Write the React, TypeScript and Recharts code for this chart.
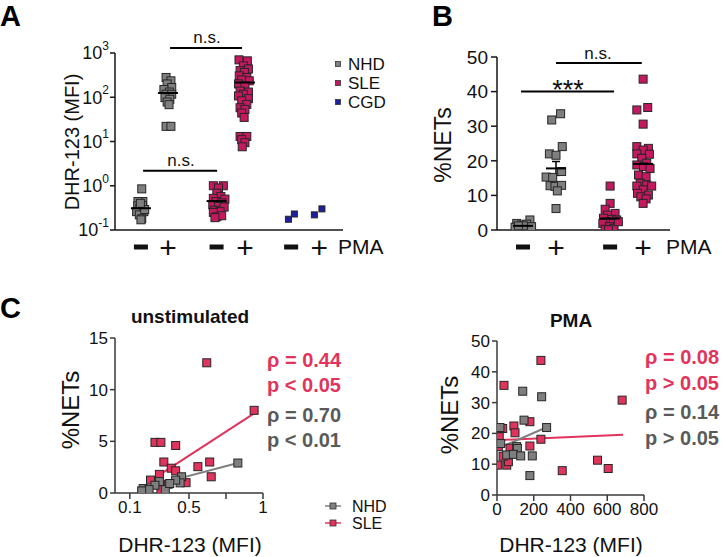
import { ScatterChart, Scatter, XAxis, YAxis, ErrorBar, ReferenceLine } from 'recharts';

const FONT = '"Liberation Sans", Arial, Helvetica, sans-serif';
const GRAY = '#7f7f7f';
const MAGENTA = '#c4185f';
const NAVY = '#1c1f9e';
const RED = '#e1345c';
const TXT_GRAY = '#5a5a5a';
const AXIS = '#161616';

// ---------- Panel A: DHR-123 (MFI), log scale ----------
const groupPosA = [1, 2, 3.8, 4.85, 6.56, 7.6];
const pmaSigns = ['-', '+', '-', '+', '-', '+'];
const logTicksA = [0.1, 1, 10, 100, 1000];

const nhdUnstimA = [0.85, 0.44, 0.44, 0.35, 0.36, 0.31, 0.26, 0.26, 0.22, 0.18, 0.17, 0.29, 0.4];
const nhdUnstimJitA = [0.03, 0.07, -0.11, -0.12, 0.06, -0.04, -0.16, 0.11, -0.06, 0.03, 0.0, 0.14, -0.02];
const nhdPmaA = [280, 235, 200, 166, 150, 131, 117, 117, 98, 90, 78, 68, 22, 22];
const nhdPmaJitA = [-0.07, 0.11, -0.03, 0.14, -0.15, 0.05, -0.07, 0.14, -0.11, 0.07, -0.03, 0.04, -0.07, 0.11];
const sleUnstimA = [1.0, 1.0, 0.89, 0.68, 0.57, 0.52, 0.5, 0.44, 0.41, 0.37, 0.34, 0.33, 0.28, 0.26, 0.25, 0.2, 0.21, 0.19];
const sleUnstimJitA = [-0.12, 0.25, 0.07, 0.01, 0.16, -0.12, 0.31, -0.02, 0.19, -0.14, 0.07, 0.28, -0.06, 0.13, -0.12, 0.01, 0.19, -0.06];
const slePmaA = [700, 665, 510, 435, 400, 365, 305, 280, 247, 235, 200, 183, 138, 131, 117, 107, 93, 83, 69, 58, 53, 44, 35, 13, 13, 11, 9.4, 7.6];
const slePmaJitA = [-0.22, 0.09, -0.06, 0.13, -0.18, -0.02, -0.21, 0.07, -0.12, 0.16, -0.24, 0, -0.18, 0.13, -0.06, -0.24, 0.13, -0.12, 0.07, -0.18, 0, -0.12, -0.03, -0.18, 0.07, -0.12, 0, -0.1];
const cgdUnstimA = [0.175, 0.23];
const cgdUnstimJitA = [-0.1, 0.12];
const cgdPmaA = [0.22, 0.3];
const cgdPmaJitA = [-0.18, 0.1];

const meanPosA = [1, 2, 3.8, 4.85];
const meanA = [0.31, 125, 0.45, 215];
const semLowA = [0.04, 20, 0.05, 40];
const semHighA = [0.04, 25, 0.05, 45];

// ---------- Panel B: %NETs ----------
const groupPosB = [1, 2, 3.64, 4.64];
const yTicksB = [0, 10, 20, 30, 40, 50];
const nhdUnstimB = [1.9, 2.9, 1.45, 1.7, 0.8, 0.5, 0.5, 0.96, 1.2, 1.2];
const nhdUnstimJitB = [-0.19, 0.21, -0.04, 0.11, -0.24, -0.09, 0.06, 0.26, 0.01, -0.14];
const nhdPmaB = [31.8, 33.6, 24.1, 22, 21.6, 16.9, 15.3, 15.2, 12.8, 12.6, 12.9, 11.3, 6.2];
const nhdPmaJitB = [-0.13, 0.14, 0.19, -0.2, 0, 0.17, -0.3, -0.1, -0.18, -0.03, 0.17, 0.04, 0];
const sleUnstimB = [12.7, 7.7, 6.0, 4.8, 4.3, 3.4, 3.1, 2.9, 2.4, 1.9, 1.9, 0.96, 0.5, 0.2, 2.4, 0.1];
const sleUnstimJitB = [0, 0, -0.15, 0.15, -0.08, -0.2, 0.05, 0.2, -0.1, 0.1, -0.22, -0.02, 0.12, -0.15, 0.25, -0.05];
const slePmaB = [43.6, 35.4, 34.7, 30.6, 24.1, 23.6, 23.1, 22, 21.9, 20.7, 19.3, 18.8, 18.3, 17.8, 15.9, 15.4, 13.5, 13, 12.7, 12.7, 11.6, 10.6, 10.1, 9.6, 9.0, 7.7];
const slePmaJitB = [0, 0.14, -0.19, 0, -0.19, 0.16, 0, -0.19, 0.19, -0.04, 0.11, -0.19, 0.01, 0.21, -0.14, 0.09, -0.09, 0.11, -0.19, 0.26, 0, -0.17, 0.16, -0.07, 0.09, 0];
const meanB = [1.2, 17.8, 3.3, 19.1];
const semB = [0.3, 2.0, 0.8, 1.6];

// ---------- Panel C left: unstimulated ----------
const xTicksCL = [0.1, 0.5, 0.75, 1];
const xTickLabelsCL = ['0.1', '0.5', '', '1'];
const yTicksCL = [0, 5, 10, 15];
const sleXCL = [0.94, 0.27, 0.31, 0.41, 0.33, 0.38, 0.41, 0.56, 0.64, 0.65, 0.24, 0.3, 0.48, 0.31, 0.36, 0.62];
const sleYCL = [8.0, 4.9, 4.9, 4.6, 3.0, 2.4, 2.15, 2.55, 3.0, 1.57, 1.25, 1.8, 1.0, 0.33, 0.85, 12.6];
const nhdXCL = [0.83, 0.45, 0.44, 0.41, 0.3, 0.27, 0.19, 0.23, 0.34, 0.18, 0.37];
const nhdYCL = [2.9, 1.57, 0.98, 1.25, 1.1, 0.75, 0.43, 0.33, 0.33, 0.2, 0.92];
const sleFitXCL = [0.24, 0.94];
const sleFitYCL = [1.2, 7.7];
const nhdFitXCL = [0.18, 0.83];
const nhdFitYCL = [0.45, 2.9];

// ---------- Panel C right: PMA ----------
const xTicksCR = [0, 200, 400, 600, 800];
const yTicksCR = [0, 10, 20, 30, 40, 50];
const sleXCR = [239, 38, 681, 179, 92, 98, 7, 239, 179, 7, 31, 547, 605, 355, 2, 53, 62, 33, 12, 71];
const sleYCR = [43.7, 35.6, 30.8, 23.8, 22.4, 20.2, 20, 18.1, 15.9, 15.7, 21.6, 11.3, 8.6, 7.9, 9.7, 9.7, 10.8, 12.6, 18.9, 15.2];
const nhdXCR = [140, 243, 147, 16, 270, 20, 107, 111, 53, 89, 129, 192, 179];
const nhdYCR = [33.7, 31.9, 24.3, 21.9, 21.9, 16.7, 15.7, 15.1, 13, 13.2, 12.7, 12.7, 6.3];
const sleFitXCR = [0, 686];
const sleFitYCR = [17.8, 19.6];
const nhdFitXCR = [20, 270];
const nhdFitYCR = [15.5, 22];

const toPts = (pos: number, vals: number[], jit: number[]) => vals.map((v, i) => ({ x: pos + jit[i], y: v }));
const zipXY = (xs: number[], ys: number[]) => xs.map((x, i) => ({ x, y: ys[i] }));
const seg = (xs: number[], ys: number[]) => [{ x: xs[0], y: ys[0] }, { x: xs[1], y: ys[1] }];

const sq = (fill: string, size = 8) => (p: any) => (
  <rect x={p.cx - size / 2} y={p.cy - size / 2} width={size} height={size} fill={fill} stroke="#262626" strokeWidth={1} />
);
const meanShape = (half: number) => (p: any) => (
  <line x1={p.cx - half} x2={p.cx + half} y1={p.cy} y2={p.cy} stroke="#000" strokeWidth={2} />
);

const signTick = (positions: number[]) => (p: any) => {
  const i = positions.indexOf(p.payload.value);
  const cy = p.y + 9;
  if (pmaSigns[i] === '-') {
    return <rect x={p.x - 7} y={cy - 2.5} width={14} height={5} fill="#111" />;
  }
  return (
    <text x={p.x} y={cy} textAnchor="middle" dominantBaseline="central" fontSize={30} fill="#111" fontFamily={FONT}>
      +
    </text>
  );
};

const powTick = (p: any) => {
  const e = Math.round(Math.log10(p.payload.value));
  return (
    <text x={p.x} y={p.y} dy="0.36em" textAnchor="end" fontSize={18} fill="#111" fontFamily={FONT}>
      <tspan>10</tspan>
      <tspan fontSize={12} dy="-0.8em">{e}</tspan>
    </text>
  );
};

const axisStyle = { stroke: AXIS, strokeWidth: 1.5 };
const axisStyleC = { stroke: '#3a3a3a', strokeWidth: 1.5 };
const tickC = { fontSize: 17, fill: '#111', fontFamily: FONT };

const meansA = meanPosA.map((x, i) => ({ x, y: meanA[i], err: [semLowA[i], semHighA[i]] }));
const meansB = groupPosB.map((x, i) => ({ x, y: meanB[i], err: semB[i] }));

const App = () => {
  return (
    <div style={{ position: 'absolute', left: 0, top: 0, width: 726, height: 557, background: '#fff', fontFamily: FONT }}>
      {/* Panel A */}
      <div style={{ position: 'absolute', left: 0, top: 0 }}>
        <ScatterChart width={380} height={265} margin={{ top: 53, right: 37, bottom: 0, left: 0 }}>
          <XAxis type="number" dataKey="x" domain={[0.04, 8.48]} ticks={groupPosA} tick={signTick(groupPosA)} interval={0}
            tickLine={false} axisLine={axisStyle} height={35} allowDataOverflow />
          <YAxis type="number" dataKey="y" scale="log" domain={[0.1, 1000]} ticks={logTicksA} tick={powTick} interval={0}
            tickSize={5} tickMargin={1} width={115} axisLine={axisStyle} tickLine={axisStyle} allowDataOverflow />
          <Scatter data={toPts(groupPosA[0], nhdUnstimA, nhdUnstimJitA)} shape={sq(GRAY)} isAnimationActive={false} />
          <Scatter data={toPts(groupPosA[1], nhdPmaA, nhdPmaJitA)} shape={sq(GRAY)} isAnimationActive={false} />
          <Scatter data={toPts(groupPosA[2], sleUnstimA, sleUnstimJitA)} shape={sq(MAGENTA)} isAnimationActive={false} />
          <Scatter data={toPts(groupPosA[3], slePmaA, slePmaJitA)} shape={sq(MAGENTA)} isAnimationActive={false} />
          <Scatter data={toPts(groupPosA[4], cgdUnstimA, cgdUnstimJitA)} shape={sq(NAVY, 6)} isAnimationActive={false} />
          <Scatter data={toPts(groupPosA[5], cgdPmaA, cgdPmaJitA)} shape={sq(NAVY, 6)} isAnimationActive={false} />
          <Scatter data={meansA} shape={meanShape(10)} isAnimationActive={false}>
            <ErrorBar dataKey="err" direction="y" width={4} stroke="#000" strokeWidth={1.5} />
          </Scatter>
          <ReferenceLine segment={[{ x: 2.08, y: 1290 }, { x: 4.74, y: 1290 }]} stroke="#000" strokeWidth={2} ifOverflow="visible" />
          <ReferenceLine segment={[{ x: 1.08, y: 2.19 }, { x: 3.82, y: 2.19 }]} stroke="#000" strokeWidth={2} ifOverflow="visible" />
        </ScatterChart>
      </div>

      {/* Panel B */}
      <div style={{ position: 'absolute', left: 380, top: 0 }}>
        <ScatterChart width={340} height={265} margin={{ top: 57, right: 50, bottom: 0, left: 0 }}>
          <XAxis type="number" dataKey="x" domain={[0.212, 5.455]} ticks={groupPosB} tick={signTick(groupPosB)} interval={0}
            tickLine={false} axisLine={axisStyle} height={35} allowDataOverflow />
          <YAxis type="number" dataKey="y" domain={[0, 50]} ticks={yTicksB} tickSize={6} tickMargin={3} width={117} interval={0}
            axisLine={axisStyle} tickLine={axisStyle} tick={{ fontSize: 19, fill: '#111', fontFamily: FONT }} allowDataOverflow />
          <Scatter data={toPts(groupPosB[0], nhdUnstimB, nhdUnstimJitB)} shape={sq(GRAY)} isAnimationActive={false} />
          <Scatter data={toPts(groupPosB[1], nhdPmaB, nhdPmaJitB)} shape={sq(GRAY)} isAnimationActive={false} />
          <Scatter data={toPts(groupPosB[2], sleUnstimB, sleUnstimJitB)} shape={sq(MAGENTA)} isAnimationActive={false} />
          <Scatter data={toPts(groupPosB[3], slePmaB, slePmaJitB)} shape={sq(MAGENTA)} isAnimationActive={false} />
          <Scatter data={meansB} shape={meanShape(10)} isAnimationActive={false}>
            <ErrorBar dataKey="err" direction="y" width={4} stroke="#000" strokeWidth={1.5} />
          </Scatter>
          <ReferenceLine segment={[{ x: 0.94, y: 40 }, { x: 3.76, y: 40 }]} stroke="#000" strokeWidth={2} ifOverflow="visible" />
          <ReferenceLine segment={[{ x: 2.0, y: 48.3 }, { x: 4.6, y: 48.3 }]} stroke="#000" strokeWidth={2} ifOverflow="visible" />
        </ScatterChart>
      </div>

      {/* Panel C left */}
      <div style={{ position: 'absolute', left: 0, top: 290 }}>
        <ScatterChart width={300} height={240} margin={{ top: 48, right: 37, bottom: 0, left: 0 }}>
          <XAxis type="number" dataKey="x" domain={[0, 1]} ticks={xTicksCL} tickFormatter={(v: number, i: number) => xTickLabelsCL[i]}
            interval={0} tickSize={6} axisLine={axisStyleC} tickLine={axisStyleC} height={37} tick={tickC} allowDataOverflow />
          <YAxis type="number" dataKey="y" domain={[0, 15]} ticks={yTicksCL} tickSize={5} tickMargin={2} width={115} interval={0}
            axisLine={axisStyleC} tickLine={axisStyleC} tick={tickC} allowDataOverflow />
          <Scatter data={zipXY(sleXCL, sleYCL)} shape={sq(RED)} isAnimationActive={false} />
          <Scatter data={zipXY(nhdXCL, nhdYCL)} shape={sq(GRAY)} isAnimationActive={false} />
          <ReferenceLine segment={seg(sleFitXCL, sleFitYCL)} stroke={RED} strokeWidth={2} ifOverflow="visible" />
          <ReferenceLine segment={seg(nhdFitXCL, nhdFitYCL)} stroke={GRAY} strokeWidth={2} ifOverflow="visible" />
        </ScatterChart>
      </div>

      {/* Panel C right */}
      <div style={{ position: 'absolute', left: 380, top: 290 }}>
        <ScatterChart width={300} height={240} margin={{ top: 51, right: 36, bottom: 0, left: 0 }}>
          <XAxis type="number" dataKey="x" domain={[0, 800]} ticks={xTicksCR} tickSize={6} axisLine={axisStyleC} interval={0}
            tickLine={axisStyleC} height={35} tick={tickC} allowDataOverflow />
          <YAxis type="number" dataKey="y" domain={[0, 50]} ticks={yTicksCR} tickSize={5} tickMargin={2} width={117} interval={0}
            axisLine={axisStyleC} tickLine={axisStyleC} tick={tickC} allowDataOverflow />
          <Scatter data={zipXY(sleXCR, sleYCR)} shape={sq(RED)} isAnimationActive={false} />
          <Scatter data={zipXY(nhdXCR, nhdYCR)} shape={sq(GRAY)} isAnimationActive={false} />
          <ReferenceLine segment={seg(sleFitXCR, sleFitYCR)} stroke={RED} strokeWidth={2} ifOverflow="visible" />
          <ReferenceLine segment={seg(nhdFitXCR, nhdFitYCR)} stroke={GRAY} strokeWidth={2} ifOverflow="visible" />
        </ScatterChart>
      </div>

      {/* labels, legends, annotations */}
      <svg width={726} height={557} style={{ position: 'absolute', left: 0, top: 0, pointerEvents: 'none' }} fontFamily={FONT}>
        <text x={0} y={26} fontSize={29} fontWeight="bold">A</text>
        <text x={432} y={26} fontSize={29} fontWeight="bold">B</text>
        <text x={0} y={318} fontSize={29} fontWeight="bold">C</text>

        <text transform="translate(72,142) rotate(-90)" textAnchor="middle" dy="0.35em" fontSize={20} fill="#111">DHR-123 (MFI)</text>
        <text x={207} y={37} dy="0.35em" textAnchor="middle" fontSize={17} fill="#111">n.s.</text>
        <text x={181} y={160} dy="0.35em" textAnchor="middle" fontSize={17} fill="#111">n.s.</text>
        <text x={338} y={247} dy="0.35em" fontSize={21} fill="#111">PMA</text>

        <rect x={335.5} y={61.5} width={5} height={5} fill={GRAY} stroke="#333" strokeWidth={0.8} />
        <rect x={335.5} y={80.5} width={5} height={5} fill={MAGENTA} stroke="#333" strokeWidth={0.8} />
        <rect x={335.5} y={99.5} width={5} height={5} fill={NAVY} stroke="#333" strokeWidth={0.8} />
        <text x={348} y={64} dy="0.35em" fontSize={17} fill="#111">NHD</text>
        <text x={348} y={83} dy="0.35em" fontSize={17} fill="#111">SLE</text>
        <text x={348} y={102} dy="0.35em" fontSize={17} fill="#111">CGD</text>

        <text transform="translate(443,145) rotate(-90)" textAnchor="middle" dy="0.35em" fontSize={23} fill="#111">%NETs</text>
        <text x={568} y={99} textAnchor="middle" fontSize={27} fill="#111">***</text>
        <text x={598} y={53} dy="0.35em" textAnchor="middle" fontSize={17} fill="#111">n.s.</text>
        <text x={666} y={247} dy="0.35em" fontSize={21} fill="#111">PMA</text>

        <text x={190} y={316} dy="0.35em" textAnchor="middle" fontSize={19} fontWeight="bold" fill="#111">unstimulated</text>
        <text x={571} y={320} dy="0.35em" textAnchor="middle" fontSize={19} fontWeight="bold" fill="#111">PMA</text>
        <text transform="translate(71,410) rotate(-90)" textAnchor="middle" dy="0.35em" fontSize={24} fill="#111">%NETs</text>
        <text transform="translate(450,415) rotate(-90)" textAnchor="middle" dy="0.35em" fontSize={24} fill="#111">%NETs</text>
        <text x={190} y={545} dy="0.35em" textAnchor="middle" fontSize={21} fill="#111">DHR-123 (MFI)</text>
        <text x={571} y={545} dy="0.35em" textAnchor="middle" fontSize={21} fill="#111">DHR-123 (MFI)</text>

        <text x={267} y={360} dy="0.35em" fontSize={20} fontWeight="bold" fill={RED}>ρ = 0.44</text>
        <text x={267} y={385} dy="0.35em" fontSize={20} fontWeight="bold" fill={RED}>p &lt; 0.05</text>
        <text x={267} y={415} dy="0.35em" fontSize={20} fontWeight="bold" fill={TXT_GRAY}>ρ = 0.70</text>
        <text x={267} y={440} dy="0.35em" fontSize={20} fontWeight="bold" fill={TXT_GRAY}>p &lt; 0.01</text>
        <text x={645} y={357} dy="0.35em" fontSize={20} fontWeight="bold" fill={RED}>ρ = 0.08</text>
        <text x={645} y={383} dy="0.35em" fontSize={20} fontWeight="bold" fill={RED}>p &gt; 0.05</text>
        <text x={645} y={412} dy="0.35em" fontSize={20} fontWeight="bold" fill={TXT_GRAY}>ρ = 0.14</text>
        <text x={645} y={438} dy="0.35em" fontSize={20} fontWeight="bold" fill={TXT_GRAY}>p &gt; 0.05</text>

        <line x1={325} x2={341} y1={506} y2={506} stroke={GRAY} strokeWidth={1.5} />
        <rect x={330} y={503} width={6} height={6} fill={GRAY} stroke="#333" strokeWidth={0.8} />
        <line x1={325} x2={341} y1={523} y2={523} stroke={RED} strokeWidth={1.5} />
        <rect x={330} y={520} width={6} height={6} fill={RED} stroke="#333" strokeWidth={0.8} />
        <text x={352} y={506} dy="0.35em" fontSize={16} fill="#111">NHD</text>
        <text x={352} y={523} dy="0.35em" fontSize={16} fill="#111">SLE</text>
      </svg>
    </div>
  );
};

export default App;
